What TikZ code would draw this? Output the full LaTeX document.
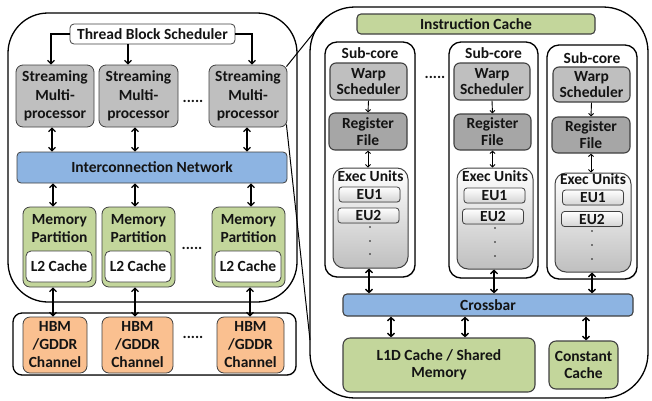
\documentclass[tikz,border=0pt]{standalone}
\usepackage{fontspec}
\setmainfont{Carlito}[BoldFont={Carlito Bold}]
\usetikzlibrary{arrows.meta,shadows,calc}

\definecolor{smgray}{HTML}{BFBFBF}
\definecolor{rfgray}{HTML}{A6A6A6}
\definecolor{netblue}{HTML}{8DB4E2}
\definecolor{memgreen}{HTML}{C3D69B}
\definecolor{hbmorange}{HTML}{FAC090}
\definecolor{ink}{HTML}{141414}
\definecolor{eugray}{HTML}{D4D4D4}

\begin{document}
\begin{tikzpicture}[x=1pt,y=-1pt,
  every node/.style={text=ink, font=\fontsize{15.5}{16}\selectfont\bfseries},
  frame/.style={draw=black, line width=1.3pt},
  box/.style={draw=black!75, line width=0.8pt, rounded corners=5pt, inner sep=0pt, align=center},
  smbox/.style={box, fill=smgray, rounded corners=7pt, minimum height=62pt, font=\fontsize{15.5}{18.5}\selectfont\bfseries},
  netbox/.style={box, fill=netblue, rounded corners=4pt},
  membox/.style={box, fill=memgreen, rounded corners=7pt},
  l2box/.style={box, fill=white, minimum width=66pt, minimum height=31pt},
  hbmbox/.style={box, fill=hbmorange, rounded corners=7pt, minimum height=56pt, font=\fontsize{15.5}{18}\selectfont\bfseries},
  subcore/.style={draw=black, fill=white, line width=1.3pt, rounded corners=12pt, inner sep=0pt,
    drop shadow={opacity=0.35, shadow xshift=0.7pt, shadow yshift=-0.9pt}},
  wsbox/.style={box, fill=smgray, line width=1.1pt, rounded corners=6pt, minimum height=37pt, font=\fontsize{15.5}{15.5}\selectfont\bfseries},
  rfbox/.style={box, fill=rfgray, line width=1.1pt, rounded corners=6pt, minimum height=37pt, font=\fontsize{15.5}{17}\selectfont\bfseries},
  exbox/.style={draw=black!75, line width=1pt, rounded corners=11pt, top color=white, bottom color=smgray, inner sep=0pt},
  eubox/.style={box, top color=white, bottom color=eugray, rounded corners=3pt, minimum width=61pt, minimum height=15pt,
    drop shadow={opacity=0.3, shadow xshift=0.6pt, shadow yshift=-0.6pt}},
  lbl/.style={inner sep=0pt, align=center},
  dot/.style={circle, fill=ink, inner sep=0pt, minimum size=1.8pt},
  arr/.style={line width=1.3pt, -{Straight Barb[length=3.4pt,width=7pt]}},
  darr/.style={line width=1.3pt, {Straight Barb[length=3.4pt,width=7pt]}-{Straight Barb[length=3.4pt,width=7pt]}},
  sarr/.style={line width=0.9pt, -{Straight Barb[length=2.4pt,width=5pt]}},
  sdarr/.style={line width=0.9pt, {Straight Barb[length=2.4pt,width=5pt]}-{Straight Barb[length=2.4pt,width=5pt]}},
  zoomline/.style={line width=1pt}
]
\useasboundingbox (0,0) rectangle (652,400);

% ---------------- GPU overview ----------------
\node[frame, rounded corners=40pt, minimum width=289pt, minimum height=289pt, inner sep=0pt] (gpu) at (152.5,157.5) {};

\node[box, fill=white, rounded corners=4pt, minimum width=165pt, minimum height=20pt] (tbs) at (152.5,34) {Thread Block Scheduler};

\node[smbox, minimum width=78pt] (sm1) at (55,96) {Streaming\\Multi-\\processor};
\node[smbox, minimum width=79pt] (sm2) at (138.5,96) {Streaming\\Multi-\\processor};
\node[smbox, minimum width=78pt] (sm3) at (248,96) {Streaming\\Multi-\\processor};
\node[lbl] (smdots) at (193,101) {.....};

\node[netbox, minimum width=270pt, minimum height=31pt] (icn) at (152,167.5) {Interconnection Network};

\node[membox, minimum width=73pt, minimum height=80pt] (mp1) at (59.5,247) {};
\node[membox, minimum width=73pt, minimum height=80pt] (mp2) at (138.5,247) {};
\node[membox, minimum width=73pt, minimum height=80pt] (mp3) at (248.5,247) {};
\node[lbl, font=\fontsize{15.5}{18}\selectfont\bfseries] (mp1t) at (59.5,229) {Memory\\Partition};
\node[lbl, font=\fontsize{15.5}{18}\selectfont\bfseries] (mp2t) at (138.5,229) {Memory\\Partition};
\node[lbl, font=\fontsize{15.5}{18}\selectfont\bfseries] (mp3t) at (248.5,229) {Memory\\Partition};
\node[l2box] (l2a) at (59,266.5) {L2 Cache};
\node[l2box] (l2b) at (138,266.5) {L2 Cache};
\node[l2box] (l2c) at (248,266.5) {L2 Cache};
\node[lbl] (mpdots) at (192,248) {.....};

% DRAM channels
\node[frame, rounded corners=9pt, minimum width=283pt, minimum height=62pt, inner sep=0pt,
  drop shadow={opacity=0.35, shadow xshift=0.7pt, shadow yshift=-0.9pt}, fill=white] (dram) at (154.5,344) {};
\node[hbmbox, minimum width=64pt] (hbm1) at (55,345) {HBM\\/GDDR\\Channel};
\node[hbmbox, minimum width=71pt] (hbm2) at (137.5,345) {HBM\\/GDDR\\Channel};
\node[hbmbox, minimum width=67pt] (hbm3) at (250.5,345) {HBM\\/GDDR\\Channel};
\node[lbl] (hbmdots) at (193,337) {.....};

% scheduler to SMs
\draw[arr] (tbs.west) -| ([xshift=-4]sm1.north);
\draw[arr] ([xshift=-10.5]sm2.north |- tbs.south) -- ([xshift=-10.5]sm2.north);
\draw[arr] (tbs.east) -| ([xshift=4]sm3.north);

% SMs to interconnect
\draw[darr] ([xshift=-3]sm1.south) -- ([xshift=-3]sm1.south |- icn.north);
\draw[darr] ([xshift=-3.5]sm2.south) -- ([xshift=-3.5]sm2.south |- icn.north);
\draw[darr] ([xshift=-1]sm3.south) -- ([xshift=-1]sm3.south |- icn.north);

% interconnect to memory partitions
\draw[darr] ([xshift=-6.5]mp1.north |- icn.south) -- ([xshift=-6.5]mp1.north);
\draw[darr] ([xshift=-3.5]mp2.north |- icn.south) -- ([xshift=-3.5]mp2.north);
\draw[darr] ([xshift=2.5]mp3.north |- icn.south) -- ([xshift=2.5]mp3.north);

% memory partitions to DRAM channels
\draw[darr] ([xshift=-6.5]mp1.south) -- ([xshift=-6.5]mp1.south |- hbm1.north);
\draw[darr] ([xshift=-3.5]mp2.south) -- ([xshift=-3.5]mp2.south |- hbm2.north);
\draw[darr] ([xshift=1.5]mp3.south) -- ([xshift=1.5]mp3.south |- hbm3.north);

% ---------------- SM detail ----------------
\node[frame, rounded corners=45pt, minimum width=338pt, minimum height=391pt, inner sep=0pt] (smd) at (479,202.5) {};

\node[box, fill=memgreen, rounded corners=4pt, minimum width=238pt, minimum height=20pt, line width=1.1pt] (icache) at (476,24) {Instruction Cache};

\node[subcore, minimum width=90pt, minimum height=235pt] (sc1) at (370,159.5) {};
\node[subcore, minimum width=89pt, minimum height=236pt] (sc2) at (493.5,160) {};
\node[subcore, minimum width=90pt, minimum height=234pt] (sc3) at (592,162) {};
\node[lbl] (sc1t) at (370,53) {Sub-core};
\node[lbl] (sc2t) at (493.5,53) {Sub-core};
\node[lbl] (sc3t) at (592,58) {Sub-core};
\node[lbl] (scdots) at (435,77) {.....};

\node[wsbox, minimum width=77pt] (ws1) at (368.5,81.5) {Warp\\Scheduler};
\node[wsbox, minimum width=76pt] (ws2) at (492,81.5) {Warp\\Scheduler};
\node[wsbox, minimum width=77pt, minimum height=35pt] (ws3) at (591.5,84.5) {Warp\\Scheduler};

\node[rfbox, minimum width=78pt] (rf1) at (368,131.5) {Register\\File};
\node[rfbox, minimum width=77pt, minimum height=36pt] (rf2) at (492.5,132) {Register\\File};
\node[rfbox, minimum width=78pt, minimum height=36pt] (rf3) at (591,135) {Register\\File};

\node[exbox, minimum width=75pt, minimum height=100pt] (ex1) at (370.5,218) {};
\node[exbox, minimum width=76pt, minimum height=101pt] (ex2) at (495,218.5) {};
\node[exbox, minimum width=76pt, minimum height=99pt] (ex3) at (593,222.5) {};
\node[lbl] (ex1t) at (370.5,176) {Exec Units};
\node[lbl] (ex2t) at (495,176) {Exec Units};
\node[lbl] (ex3t) at (593,179) {Exec Units};

\node[eubox] (eu1a) at (369.5,194.5) {EU1};
\node[eubox] (eu2a) at (368.5,215.5) {EU2};
\node[eubox] (eu1b) at (494.5,195.5) {EU1};
\node[eubox] (eu2b) at (493,216.5) {EU2};
\node[eubox] (eu1c) at (593,197.5) {EU1};
\node[eubox] (eu2c) at (592,219) {EU2};

\foreach \n/\x/\y in {a/370/227, b/370/241, c/370/254,
                      d/495/228, e/495/242, f/495/256,
                      g/592/231, h/592/245, i/592/259}
  \node[dot] (eudot\n) at (\x,\y) {};

\node[netbox, minimum width=290pt, minimum height=22pt, line width=1.1pt] (xbar) at (488,305) {Crossbar};
\node[membox, line width=1.1pt, minimum width=192pt, minimum height=54pt, font=\fontsize{15.5}{17}\selectfont\bfseries] (l1d) at (439,365) {L1D Cache / Shared\\Memory};
\node[membox, line width=1.1pt, minimum width=69pt, minimum height=48pt, font=\fontsize{15.5}{17}\selectfont\bfseries] (cc) at (583.5,365) {Constant\\Cache};

% pipeline inside each sub-core
\draw[sarr] (ws1.south) -- (rf1.north);
\draw[sarr] (ws2.south) -- (rf2.north);
\draw[sarr] (ws3.south) -- (rf3.north);
\draw[sdarr] (rf1.south) -- (rf1.south |- ex1.north);
\draw[sdarr] (rf2.south) -- (rf2.south |- ex2.north);
\draw[sdarr] (rf3.south) -- (rf3.south |- ex3.north);

% exec units to crossbar
\draw[darr] ([xshift=-1.5]ex1.south) -- ([xshift=-1.5]ex1.south |- xbar.north);
\draw[darr] ([xshift=-1]ex2.south) -- ([xshift=-1]ex2.south |- xbar.north);
\draw[darr] ([xshift=-1]ex3.south) -- ([xshift=-1]ex3.south |- xbar.north);

% crossbar to caches
\draw[darr] ([xshift=-48]l1d.north |- xbar.south) -- ([xshift=-48]l1d.north);
\draw[darr] ([xshift=26]l1d.north |- xbar.south) -- ([xshift=26]l1d.north);
\draw[darr] ([xshift=2.5]cc.north |- xbar.south) -- ([xshift=2.5]cc.north);

% zoom lines from the last SM to its detail view
\coordinate (zoomtop) at (324,20);
\coordinate (zoombot) at (310,340);
\draw[zoomline] ([shift={(-1,2)}]sm3.north east) -- (zoomtop);
\draw[zoomline] ([shift={(-1,-3)}]sm3.south east) -- (zoombot);
\end{tikzpicture}
\end{document}
